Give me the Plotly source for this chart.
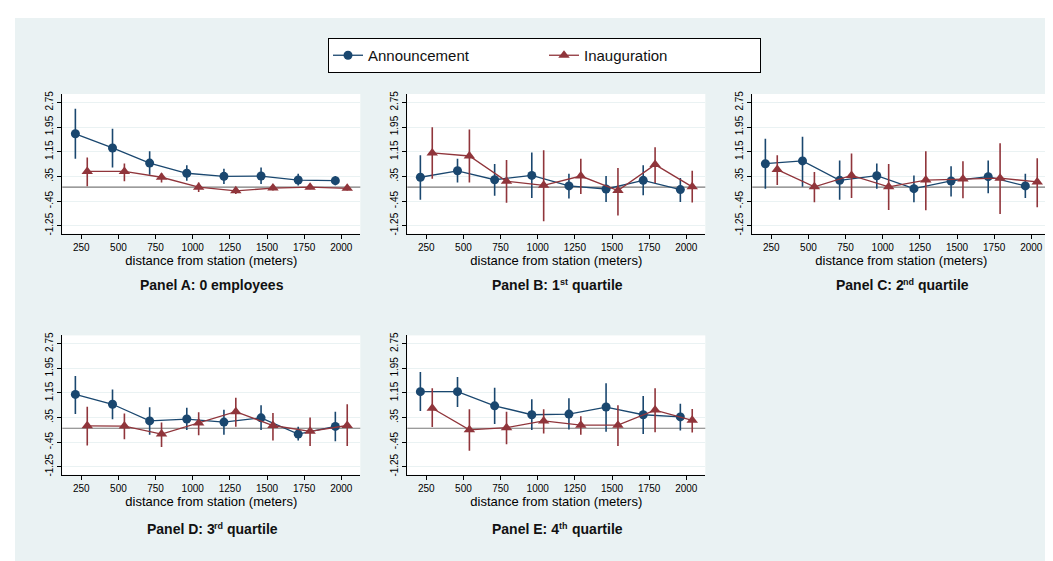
import plotly.graph_objects as go

# ---- data -------------------------------------------------------------
ann_x = [210, 460, 710, 960, 1210, 1460, 1710, 1960]
ina_x = [290, 540, 790, 1040, 1290, 1540, 1790, 2040]
x_ticks = [250, 500, 750, 1000, 1250, 1500, 1750, 2000]
y_ticks = [2.75, 1.95, 1.15, 0.35, -0.45, -1.25]
y_tick_text = ["2.75", "1.95", "1.15", ".35", "-.45", "-1.25"]

# panel titles: (main text, superscript, trailing text)
title_main = ["Panel A: 0 employees", "Panel B: 1", "Panel C: 2", "Panel D: 3", "Panel E: 4"]
title_sup = ["", "st", "nd", "rd", "th"]
title_tail = ["", " quartile", " quartile", " quartile", " quartile"]

# Panel A
annA = [1.73, 1.27, 0.78, 0.45, 0.35, 0.36, 0.23, 0.21]
annA_lo = [0.92, 0.64, 0.40, 0.21, 0.10, 0.10, 0.05, 0.06]
annA_hi = [2.54, 1.89, 1.16, 0.71, 0.60, 0.64, 0.43, 0.36]
inaA = [0.51, 0.51, 0.32, 0.00, -0.12, -0.03, 0.00, -0.04]
inaA_lo = [0.03, 0.19, 0.15, -0.16, -0.22, -0.11, -0.07, -0.11]
inaA_hi = [0.96, 0.77, 0.45, 0.15, -0.03, 0.06, 0.08, 0.04]
# Panel B
annB = [0.32, 0.53, 0.24, 0.38, 0.04, -0.06, 0.22, -0.08]
annB_lo = [-0.41, 0.15, -0.28, -0.35, -0.37, -0.48, -0.26, -0.48]
annB_hi = [1.03, 0.92, 0.75, 1.12, 0.43, 0.36, 0.71, 0.30]
inaB = [1.11, 1.01, 0.19, 0.06, 0.36, -0.11, 0.73, 0.01]
inaB_lo = [0.27, 0.15, -0.51, -1.11, -0.22, -0.92, 0.13, -0.50]
inaB_hi = [1.94, 1.87, 0.88, 1.20, 0.92, 0.62, 1.29, 0.53]
# Panel C
annC = [0.76, 0.85, 0.22, 0.37, -0.05, 0.20, 0.34, 0.04]
annC_lo = [-0.05, 0.01, -0.41, -0.05, -0.49, -0.30, -0.20, -0.35]
annC_hi = [1.57, 1.63, 0.86, 0.77, 0.38, 0.68, 0.86, 0.43]
inaC = [0.57, 0.01, 0.38, 0.01, 0.23, 0.26, 0.29, 0.17]
inaC_lo = [0.07, -0.49, -0.35, -0.74, -0.75, -0.36, -0.87, -0.65]
inaC_hi = [1.03, 0.49, 1.09, 0.75, 1.16, 0.84, 1.42, 0.94]
# Panel D
annD = [1.10, 0.78, 0.24, 0.30, 0.20, 0.34, -0.19, 0.06]
annD_lo = [0.46, 0.29, -0.21, -0.06, -0.21, -0.06, -0.40, -0.42]
annD_hi = [1.70, 1.26, 0.68, 0.67, 0.60, 0.75, 0.05, 0.54]
inaD = [0.08, 0.07, -0.19, 0.17, 0.54, 0.09, -0.10, 0.09]
inaD_lo = [-0.56, -0.36, -0.61, -0.23, 0.05, -0.40, -0.58, -0.58]
inaD_hi = [0.70, 0.48, 0.19, 0.52, 0.99, 0.50, 0.35, 0.78]
# Panel E
annE = [1.19, 1.19, 0.73, 0.44, 0.46, 0.69, 0.44, 0.37]
annE_lo = [0.56, 0.69, 0.14, -0.06, -0.04, -0.11, -0.19, -0.07]
annE_hi = [1.83, 1.67, 1.32, 0.94, 0.98, 1.46, 1.05, 0.80]
inaE = [0.65, -0.05, 0.02, 0.24, 0.10, 0.10, 0.59, 0.26]
inaE_lo = [0.04, -0.73, -0.52, -0.17, -0.21, -0.58, -0.13, -0.14]
inaE_hi = [1.30, 0.62, 0.54, 0.62, 0.39, 0.75, 1.30, 0.63]

panels = [
    (annA, annA_lo, annA_hi, inaA, inaA_lo, inaA_hi),
    (annB, annB_lo, annB_hi, inaB, inaB_lo, inaB_hi),
    (annC, annC_lo, annC_hi, inaC, inaC_lo, inaC_hi),
    (annD, annD_lo, annD_hi, inaD, inaD_lo, inaD_hi),
    (annE, annE_lo, annE_hi, inaE, inaE_lo, inaE_hi),
]

# ---- styling ----------------------------------------------------------
W, H = 1053, 561
NAVY = "#1a476f"
MAROON = "#90353b"
BG = "#eaf2f3"
FONT = "Liberation Sans, Arial, sans-serif"
TITLE_SIZE = 14
SUP_SIZE = 9

# Arial Bold advance widths (em) to lay out the superscript pieces of titles
BOLD_W = {"P": .667, "a": .556, "n": .611, "e": .556, "l": .278, " ": .278, "A": .722,
          "B": .722, "C": .722, "D": .722, "E": .667, ":": .333, "0": .556, "1": .556,
          "2": .556, "3": .556, "4": .556, "q": .611, "u": .611, "r": .389, "t": .333,
          "i": .278, "s": .556, "d": .611, "h": .611, "m": .889, "p": .611, "o": .611,
          "y": .556}


def text_w(s, size):
    return sum(BOLD_W.get(c, .6) for c in s) * size


# pixel boxes of each plot region (left, right, top, bottom)
col_px = [(54.3, 352.3), (399.3, 697.3), (744.3, 1042.3)]
row_px = [(86.0, 225.7), (327.4, 466.7)]
boxes = [
    (col_px[0], row_px[0]), (col_px[1], row_px[0]), (col_px[2], row_px[0]),
    (col_px[0], row_px[1]), (col_px[1], row_px[1]),
]

fig = go.Figure()
layout_axes = {}
annotations = []
shapes = [
    dict(type="rect", xref="paper", yref="paper", x0=0, x1=1, y0=1 - 10 / H, y1=1,
         fillcolor="white", line=dict(width=0), layer="below"),
    dict(type="rect", xref="paper", yref="paper", x0=0, x1=7 / W, y0=0, y1=1,
         fillcolor="white", line=dict(width=0), layer="below"),
]

for i, ((a, alo, ahi, b, blo, bhi), ((xl, xr), (yt, yb))) in enumerate(zip(panels, boxes)):
    k = "" if i == 0 else str(i + 1)
    xa, ya = "x" + k, "y" + k
    show = i == 0
    fig.add_trace(go.Scatter(
        x=ann_x, y=a, xaxis=xa, yaxis=ya, mode="lines+markers", name="Announcement",
        legendgroup="ann", showlegend=show,
        line=dict(color=NAVY, width=1.3),
        marker=dict(symbol="circle", size=9, color=NAVY),
        error_y=dict(type="data", symmetric=False,
                     array=[h - v for h, v in zip(ahi, a)],
                     arrayminus=[v - l for v, l in zip(a, alo)],
                     color=NAVY, thickness=1.6, width=0),
    ))
    fig.add_trace(go.Scatter(
        x=ina_x, y=b, xaxis=xa, yaxis=ya, mode="lines+markers", name="Inauguration",
        legendgroup="ina", showlegend=show,
        line=dict(color=MAROON, width=1.3),
        marker=dict(symbol="triangle-up", size=10, color=MAROON),
        error_y=dict(type="data", symmetric=False,
                     array=[h - v for h, v in zip(bhi, b)],
                     arrayminus=[v - l for v, l in zip(b, blo)],
                     color=MAROON, thickness=1.6, width=0),
    ))
    xdom = [xl / W, xr / W]
    ydom = [1 - yb / H, 1 - yt / H]
    layout_axes["xaxis" + k] = dict(
        domain=xdom, anchor=ya, range=[122, 2128], tickmode="array", tickvals=x_ticks,
        ticks="outside", ticklen=4, tickcolor="#000", showline=True, linecolor="#000",
        linewidth=1, showgrid=False, zeroline=False, automargin=False,
        tickfont=dict(size=10, color="#000", family=FONT),
        title=dict(text="distance from station (meters)", standoff=4,
                   font=dict(size=13, color="#000", family=FONT)),
    )
    layout_axes["yaxis" + k] = dict(
        domain=ydom, anchor=xa, range=[-1.51, 3.02], tickmode="array", tickvals=y_ticks,
        ticktext=y_tick_text, tickangle=-90, ticks="outside", ticklen=4, tickcolor="#000",
        showline=True, linecolor="#000", linewidth=1, showgrid=True, gridcolor=BG,
        gridwidth=1, zeroline=False, automargin=False,
        tickfont=dict(size=10, color="#000", family=FONT),
    )
    shapes.append(dict(type="line", xref=xa + " domain", yref=ya, x0=0, x1=1, y0=0, y1=0,
                       line=dict(color="#7a7a7a", width=1.2), layer="below"))

    # panel title, built from pieces so the ordinal suffix is a small raised text
    title_y = 1 - (277 if i < 3 else 520.7) / H
    cx = (xl + xr) / 2
    w1 = text_w(title_main[i], TITLE_SIZE)
    ws = text_w(title_sup[i], SUP_SIZE)
    w2 = text_w(title_tail[i], TITLE_SIZE)
    x0 = cx - (w1 + ws + w2) / 2
    common = dict(xref="paper", yref="paper", yanchor="middle", showarrow=False,
                  xanchor="left", borderpad=0)
    annotations.append(dict(text="<b>%s</b>" % title_main[i], x=x0 / W, y=title_y,
                            font=dict(size=TITLE_SIZE, color="#111", family=FONT), **common))
    if title_sup[i]:
        annotations.append(dict(text="<b>%s</b>" % title_sup[i], x=(x0 + w1) / W, y=title_y,
                                yshift=3,
                                font=dict(size=SUP_SIZE, color="#111", family=FONT), **common))
        annotations.append(dict(text="<b>%s</b>" % title_tail[i].strip(),
                                x=(x0 + w1 + ws + text_w(" ", TITLE_SIZE)) / W, y=title_y,
                                font=dict(size=TITLE_SIZE, color="#111", family=FONT), **common))

fig.update_layout(
    width=W, height=H, margin=dict(l=0, r=0, t=0, b=0),
    paper_bgcolor=BG, plot_bgcolor="white",
    font=dict(family=FONT, color="#000"),
    showlegend=True,
    legend=dict(orientation="h", x=536.5 / W, xanchor="center", y=1 - 47.5 / H,
                yanchor="middle", bgcolor="white", bordercolor="#000", borderwidth=1,
                font=dict(size=15, color="#111", family=FONT), entrywidth=171,
                itemwidth=30),
    annotations=annotations, shapes=shapes, **layout_axes,
)

fig.write_html("out.html")
